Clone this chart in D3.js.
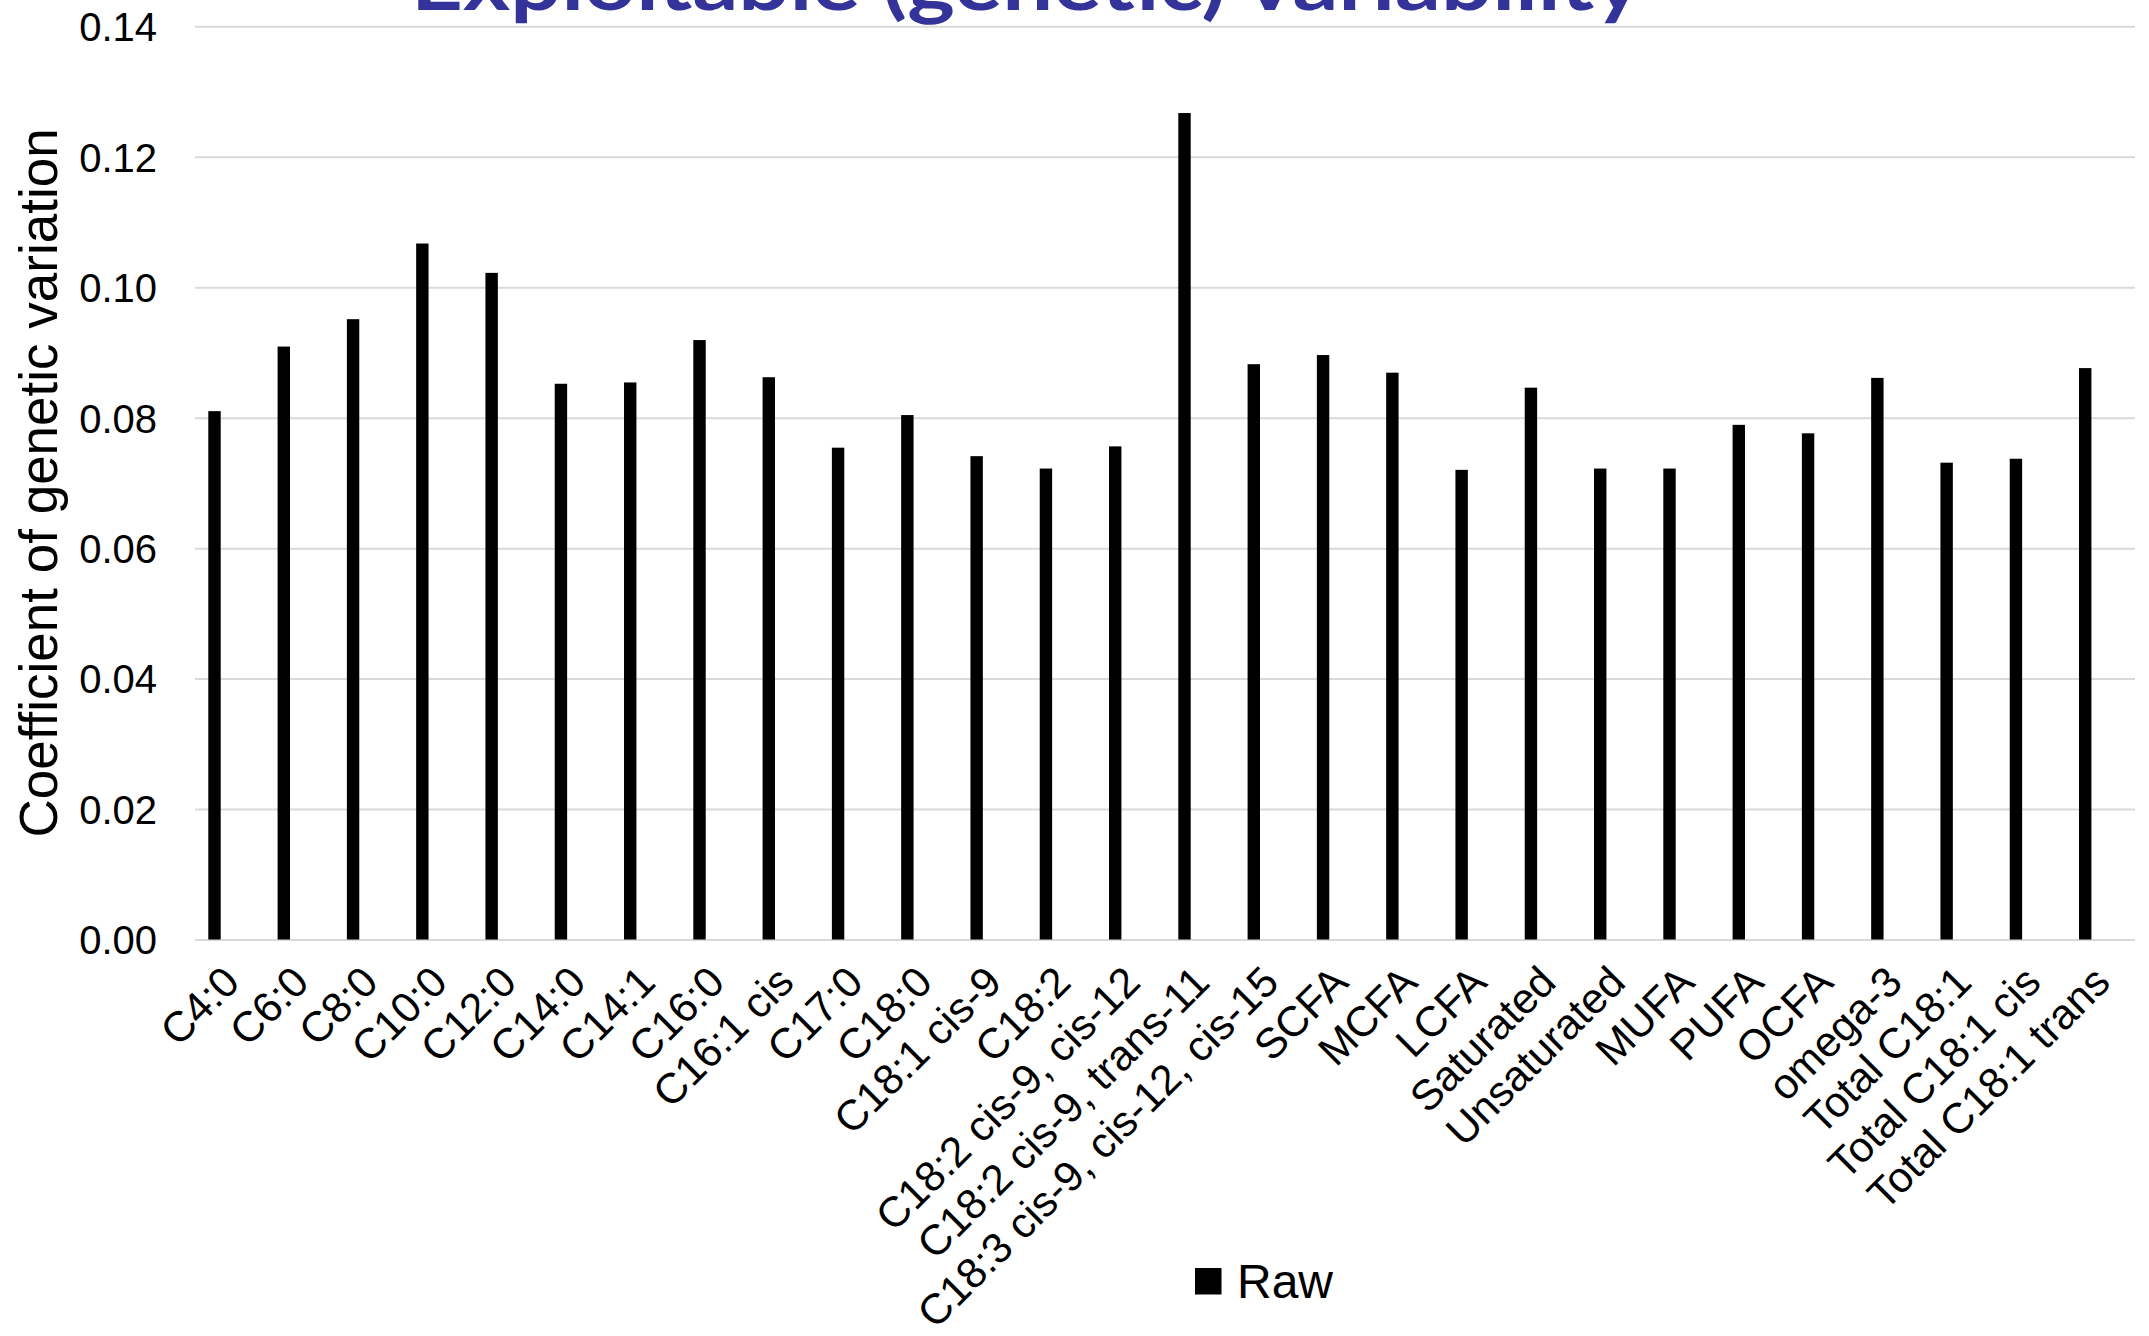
<!DOCTYPE html>
<html>
<head>
<meta charset="utf-8">
<script src="https://cdn.jsdelivr.net/npm/d3@7"></script>
<style>
  html, body { margin: 0; padding: 0; background: #ffffff; }
  svg { display: block; }
</style>
</head>
<body>
<svg id="chart" width="2149" height="1336"></svg>
<script>
const categories = [
  "C4:0", "C6:0", "C8:0", "C10:0", "C12:0", "C14:0", "C14:1", "C16:0",
  "C16:1 cis", "C17:0", "C18:0", "C18:1 cis-9", "C18:2",
  "C18:2 cis-9, cis-12", "C18:2 cis-9, trans-11", "C18:3 cis-9, cis-12, cis-15",
  "SCFA", "MCFA", "LCFA", "Saturated", "Unsaturated", "MUFA", "PUFA", "OCFA",
  "omega-3", "Total C18:1", "Total C18:1 cis", "Total C18:1 trans"
];
const seriesName = "Raw";
const rawValues = [
  0.0810, 0.0909, 0.0951, 0.1067, 0.1022, 0.0852, 0.0854, 0.0919,
  0.0862, 0.0754, 0.0804, 0.0741, 0.0722,
  0.0756, 0.1267, 0.0882,
  0.0896, 0.0869, 0.0720, 0.0846, 0.0722, 0.0722, 0.0789, 0.0776,
  0.0861, 0.0731, 0.0737, 0.0876
];
const yTicks = [0, 0.02, 0.04, 0.06, 0.08, 0.10, 0.12, 0.14];
const titleText = "Exploitable (genetic) variability";
const yAxisTitle = "Coefficient of genetic variation";

const svg = d3.select("#chart");
const plotLeft = 195, plotRight = 2135, plotTop = 26.3, plotBottom = 939.5;

const x = d3.scaleBand().domain(categories).range([plotLeft, plotRight]).paddingInner(0).paddingOuter(0);
const y = d3.scaleLinear().domain([0, 0.14]).range([plotBottom, plotTop]);

// Gridlines + y labels
const yAxis = d3.axisLeft(y).tickValues(yTicks).tickFormat(d3.format(".2f"))
  .tickSize(-(plotRight - plotLeft)).tickPadding(38);
const gy = svg.append("g").attr("transform", `translate(${plotLeft},0)`).call(yAxis);
gy.select(".domain").remove();
gy.selectAll(".tick line").attr("stroke", "#d9d9d9").attr("stroke-width", 2);
gy.selectAll(".tick text")
  .attr("font-family", "'Liberation Sans', Arial, sans-serif")
  .attr("font-size", 40).attr("fill", "#000").attr("dy", "0.36em");

// Bars
const bw = x.bandwidth();
svg.append("g").selectAll("rect").data(categories).join("rect")
  .attr("x", (d) => x(d) + bw * 0.192)
  .attr("width", bw * 0.179)
  .attr("y", (d, i) => y(rawValues[i]))
  .attr("height", (d, i) => y(0) - y(rawValues[i]))
  .attr("fill", "#000");

// X axis labels
const xAxis = d3.axisBottom(x).tickSize(0);
const gx = svg.append("g").attr("transform", `translate(0,${plotBottom})`).call(xAxis);
gx.select(".domain").remove();
gx.selectAll(".tick text")
  .attr("font-family", "'Liberation Sans', Arial, sans-serif")
  .attr("font-size", 42.5).attr("fill", "#000")
  .attr("x", 0).attr("y", 0).attr("dy", 0)
  .attr("text-anchor", "end")
  .attr("transform", "translate(12,45) rotate(-45)");

// Y axis title
svg.append("text")
  .attr("transform", `translate(57,${(plotTop + plotBottom) / 2}) rotate(-90)`)
  .attr("text-anchor", "middle")
  .attr("font-family", "'Liberation Sans', Arial, sans-serif")
  .attr("font-size", 53).attr("fill", "#000")
  .text(yAxisTitle);

// Legend
const lg = svg.append("g").attr("transform", "translate(1195,1268)");
lg.append("rect").attr("width", 26.5).attr("height", 26.5).attr("fill", "#000");
lg.append("text").attr("x", 42).attr("y", 29.7)
  .attr("font-family", "'Liberation Sans', Arial, sans-serif")
  .attr("font-size", 48).attr("fill", "#000").text(seriesName);

// Title (clipped at top in reference)
svg.append("text")
  .attr("x", 411).attr("y", 9.5)
  .attr("font-family", "Lato, 'Open Sans', sans-serif")
  .attr("font-weight", "bold")
  .attr("font-size", 76).attr("fill", "#333399")
  .attr("textLength", 1231).attr("lengthAdjust", "spacingAndGlyphs")
  .text(titleText);
</script>
</body>
</html>
